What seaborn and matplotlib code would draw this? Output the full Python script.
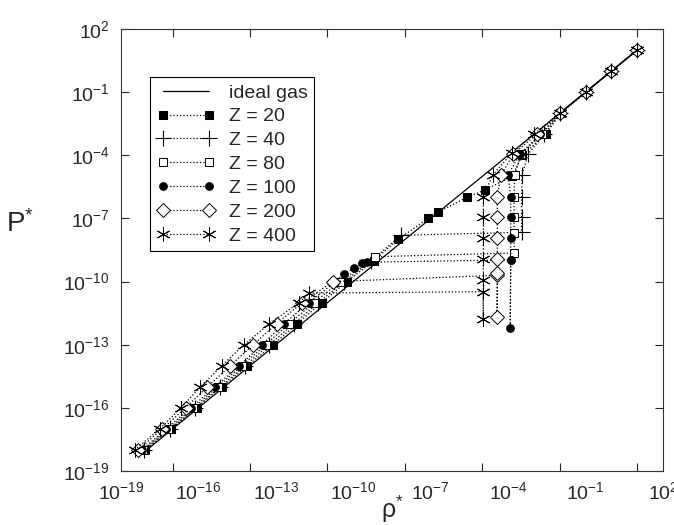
import numpy as np
import matplotlib
matplotlib.use("Agg")
import matplotlib.pyplot as plt
import seaborn as sns
from matplotlib.ticker import FixedLocator, NullLocator, NullFormatter

# ---------------- data (log10 values) ----------------
ideal_log_rho = [-18.3, 1.0]

z20_log_rho = [-18.06, -17.06, -16.07, -15.1, -14.1, -13.1, -12.18, -11.22, -10.25, -9.2,
               -8.27, -7.1, -6.72, -5.6, -4.9, -3.85, -3.45, -2.55, -1.95, -0.98, 0.0, 1.0]
z20_log_p = [-18, -17, -16, -15, -14, -13, -12, -11, -10, -9,
             -8, -7, -6.7, -6, -5.65, -5, -4, -3, -2, -1, 0, 1]

z40_log_rho = [-18.1, -17.1, -16.12, -15.15, -14.2, -13.25, -12.3, -11.35, -10.35, -9.3,
               -8.15, -3.48, -3.48, -3.48, -3.46, -3.23, -2.6, -2.0, -1.0, 0.0, 1.0]
z40_log_p = [-18, -17, -16, -15, -14, -13, -12, -11, -10, -9,
             -7.8, -7.66, -6.95, -5.97, -4.94, -3.95, -3, -2, -1, 0, 1]

z80_log_rho = [-18.15, -17.17, -16.2, -15.25, -14.32, -13.4, -12.48, -11.52, -10.5, -9.16,
               -3.77, -3.77, -3.77, -3.77, -3.75, -3.5, -2.7, -2.0, -1.0, 0.0, 1.0]
z80_log_p = [-18, -17, -16, -15, -14, -13, -12, -11, -10, -8.82,
             -8.64, -7.7, -6.95, -5.97, -4.94, -3.95, -3, -2, -1, 0, 1]

z100_log_rho = [-18.2, -17.25, -16.3, -15.35, -14.42, -13.53, -12.68, -11.72, -10.69, -10.36,
                -9.97, -9.67, -9.48, -3.9, -3.92, -3.9, -3.9, -3.9, -3.9, -4.0, -3.55, -2.75,
                -2.0, -1.0, 0.0, 1.0]
z100_log_p = [-18, -17, -16, -15, -14, -13, -12, -11, -10, -9.64,
              -9.36, -9.13, -9.08, -8.97, -12.2, -8.97, -7.91, -6.95, -5.97, -4.94, -3.95, -3,
              -2, -1, 0, 1]

z200_log_rho = [-18.35, -17.4, -16.5, -15.65, -14.77, -13.88, -12.97, -11.98, -10.79,
                -4.42, -4.43, -4.42, -4.42, -4.42, -4.42, -4.42, -4.28, -3.8, -2.9,
                -2.0, -1.0, 0.0, 1.0]
z200_log_p = [-18, -17, -16, -15, -14, -13, -12, -11, -10,
              -9.7, -11.7, -9.6, -8.94, -7.91, -6.95, -5.99, -4.94, -3.95, -3,
              -2, -1, 0, 1]

z400_log_rho = [-18.47, -17.5, -16.68, -15.92, -15.1, -14.23, -13.25, -12.1, -11.7,
                -4.96, -4.97, -4.96, -4.96, -4.96, -4.96, -4.96, -4.6, -3.86, -3.0,
                -2.0, -1.0, 0.0, 1.0]
z400_log_p = [-18, -17, -16, -15, -14, -13, -12, -11, -10.55,
              -10.48, -11.8, -9.92, -8.94, -7.91, -6.95, -5.97, -4.94, -3.9, -3,
              -2, -1, 0, 1]

series_labels = ["Z = 20", "Z = 40", "Z = 80", "Z = 100", "Z = 200", "Z = 400"]
x_tick_exponents = [-19, -16, -13, -10, -7, -4, -1, 2]
y_tick_exponents = [-19, -16, -13, -10, -7, -4, -1, 2]
x_mark_exponents = [-17, -14, -11, -8, -5, -2, 1]

# ---------------- style ----------------
sns.set_style("ticks")
plt.rcParams["font.family"] = ["Liberation Sans", "DejaVu Sans"]
plt.rcParams["mathtext.fontset"] = "custom"
plt.rcParams["mathtext.rm"] = "Liberation Sans"
plt.rcParams["mathtext.it"] = "Liberation Sans:italic"
plt.rcParams["mathtext.default"] = "regular"

fig = plt.figure(figsize=(6.74, 5.25), dpi=100)
ax = fig.add_axes([121 / 674, 54 / 525, 542 / 674, 442 / 525])
ax.set_xscale("log")
ax.set_yscale("log")

ideal = 10 ** np.array(ideal_log_rho)
sns.lineplot(x=ideal, y=ideal, ax=ax, color="black", linewidth=0.9,
             sort=False, estimator=None, label="ideal gas")

styles = [
    dict(marker="s", markersize=6, markerfacecolor="black", markeredgecolor="black"),
    dict(marker="+", markersize=12, markeredgewidth=0.8, markeredgecolor="black"),
    dict(marker="s", markersize=5.5, markerfacecolor="white", markeredgecolor="black", markeredgewidth=0.7),
    dict(marker="o", markersize=5.5, markerfacecolor="black", markeredgecolor="black"),
    dict(marker="D", markersize=7, markerfacecolor="white", markeredgecolor="black", markeredgewidth=0.7),
    dict(marker=(6, 2, 0), markersize=10, markeredgewidth=0.7, markeredgecolor="black"),
]
data = [
    (z20_log_rho, z20_log_p), (z40_log_rho, z40_log_p), (z80_log_rho, z80_log_p),
    (z100_log_rho, z100_log_p), (z200_log_rho, z200_log_p), (z400_log_rho, z400_log_p),
]
for (lr, lp), lab, st in zip(data, series_labels, styles):
    sns.lineplot(x=10 ** np.array(lr), y=10 ** np.array(lp), ax=ax, sort=False,
                 estimator=None, color="black", linestyle=":", linewidth=0.9,
                 label=lab, **st)

ax.set_xlim(1e-19, 1e2)
ax.set_ylim(1e-19, 1e2)

ax.xaxis.set_major_locator(FixedLocator([10.0 ** e for e in x_tick_exponents]))
ax.xaxis.set_minor_locator(FixedLocator([10.0 ** e for e in x_mark_exponents]))
ax.xaxis.set_minor_formatter(NullFormatter())
ax.yaxis.set_major_locator(FixedLocator([10.0 ** e for e in y_tick_exponents]))
ax.yaxis.set_minor_locator(NullLocator())

ax.tick_params(axis="x", which="major", length=0, pad=7, labelsize=14)
ax.tick_params(axis="x", which="minor", length=6, width=0.8, direction="in", top=True, bottom=True)
ax.tick_params(axis="y", which="major", length=6, width=0.8, direction="in", left=True, right=True,
               pad=8, labelsize=14)
for s in ax.spines.values():
    s.set_linewidth(0.8)
    s.set_color("#333333")

ax.set_xlabel(r"$\rho^{*}$", fontsize=18)
ax.set_ylabel(r"P$^{*}$", fontsize=20, rotation=0)
ax.xaxis.set_label_coords(0.5, -0.052)
ax.yaxis.set_label_coords(-0.186, 0.527)

leg = ax.legend(loc="upper left", bbox_to_anchor=(0.0535, 0.891), borderaxespad=0,
                frameon=True, fancybox=False, edgecolor="black", framealpha=1,
                fontsize=14, handlelength=3.0, handletextpad=0.7, labelspacing=0.32,
                numpoints=2, borderpad=0.35)
leg.get_frame().set_linewidth(0.8)

fig.savefig("out.png", dpi=100)
